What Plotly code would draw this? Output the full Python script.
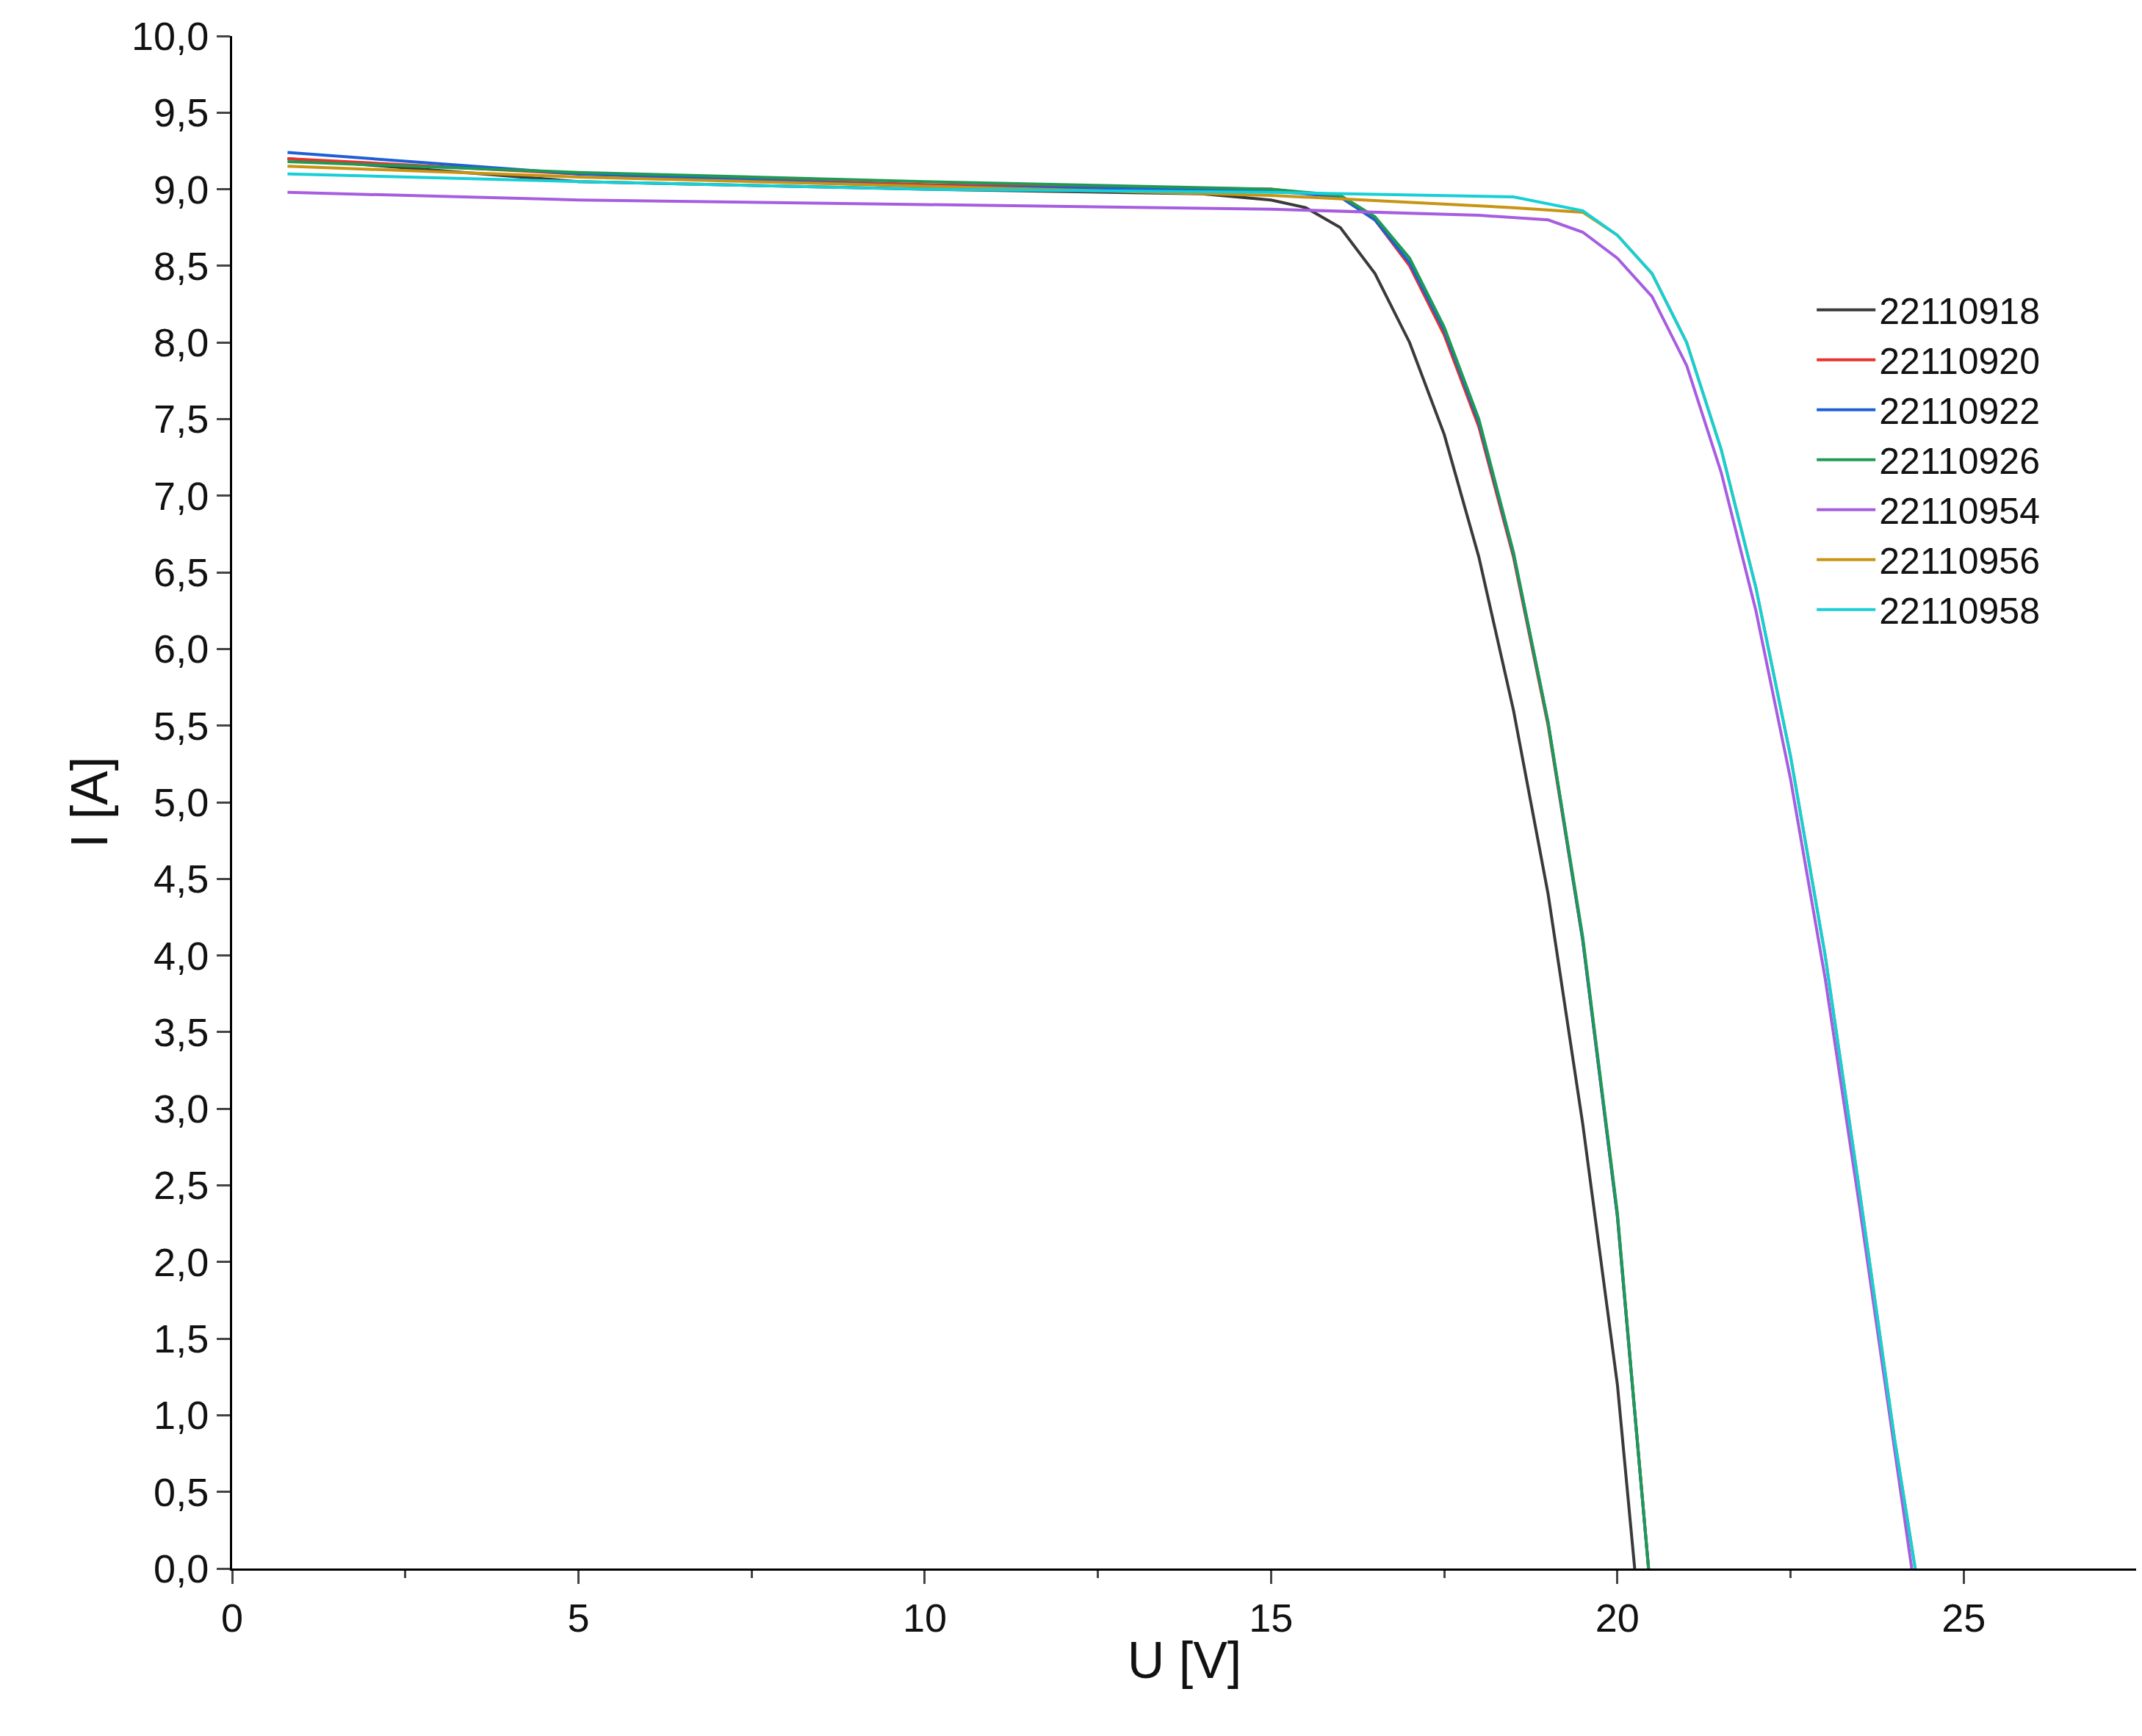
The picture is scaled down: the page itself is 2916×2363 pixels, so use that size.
import plotly.graph_objects as go

names = ["22110918","22110920","22110922","22110926","22110954","22110956","22110958"]
colors = ["#3a3a3a","#e8322c","#1f5fd6","#1f9a55","#a65de0","#c89412","#17cfd6"]

u_black = [0.8,5,10,14,15,15.5,16,16.5,17,17.5,18,18.5,19,19.5,20,20.25]
i_black = [9.2,9.05,9.0,8.97,8.93,8.88,8.75,8.45,8.0,7.4,6.6,5.6,4.4,2.9,1.2,0]
u_mid = [0.8,5,10,15,16,16.5,17,17.5,18,18.5,19,19.5,20,20.45]
i_red = [9.2,9.1,9.03,9.0,8.95,8.8,8.5,8.05,7.45,6.6,5.5,4.1,2.3,0]
i_blue = [9.24,9.1,9.02,8.99,8.95,8.8,8.52,8.08,7.48,6.62,5.52,4.1,2.3,0]
i_green = [9.18,9.11,9.05,9.0,8.96,8.82,8.55,8.1,7.5,6.63,5.52,4.12,2.32,0]
u_purple = [0.8,5,10,15,18,19,19.5,20,20.5,21,21.5,22,22.5,23,23.5,24,24.25]
i_purple = [8.98,8.93,8.9,8.87,8.83,8.8,8.72,8.55,8.3,7.85,7.15,6.25,5.15,3.85,2.35,0.8,0]
u_right = [0.8,5,10,15,18.5,19.5,20,20.5,21,21.5,22,22.5,23,23.5,24,24.3]
i_gold = [9.15,9.08,9.02,8.96,8.88,8.85,8.7,8.45,8.0,7.3,6.4,5.3,4.0,2.45,0.85,0]
i_cyan = [9.1,9.05,9.0,8.98,8.95,8.86,8.7,8.45,8.0,7.3,6.4,5.3,4.0,2.45,0.85,0]

series = [(u_black,i_black),(u_mid,i_red),(u_mid,i_blue),(u_mid,i_green),
          (u_purple,i_purple),(u_right,i_gold),(u_right,i_cyan)]

fig = go.Figure()
for (u,i),n,c in zip(series,names,colors):
    fig.add_trace(go.Scatter(x=u,y=i,name=n,mode="lines",line=dict(color=c,width=4)))

fig.update_layout(
    width=2916,height=2363,paper_bgcolor="white",plot_bgcolor="white",
    margin=dict(l=308,r=15,t=41,b=236),
    separators=",.",
    font=dict(family="Liberation Sans, Arial",size=54,color="#111"),
    legend=dict(x=0.83,y=0.84,xanchor="left",yanchor="top",font=dict(size=50),
                bgcolor="rgba(0,0,0,0)",tracegroupgap=0,itemwidth=80),
)
fig.update_xaxes(range=[0,27.5],dtick=5,ticks="outside",ticklen=18,tickwidth=3,
                 showline=True,linewidth=3,linecolor="black",showgrid=False,zeroline=False,
                 minor=dict(dtick=2.5,ticks="outside",ticklen=10,tickwidth=3),
                 title=dict(text="U [V]",font=dict(size=70),standoff=5))
fig.update_yaxes(range=[0,10],dtick=0.5,tickformat=".1f",ticks="outside",ticklen=18,tickwidth=3,
                 showline=True,linewidth=3,linecolor="black",showgrid=False,zeroline=False,
                 title=dict(text="I [A]",font=dict(size=70),standoff=10))
fig.write_html("out.html")
